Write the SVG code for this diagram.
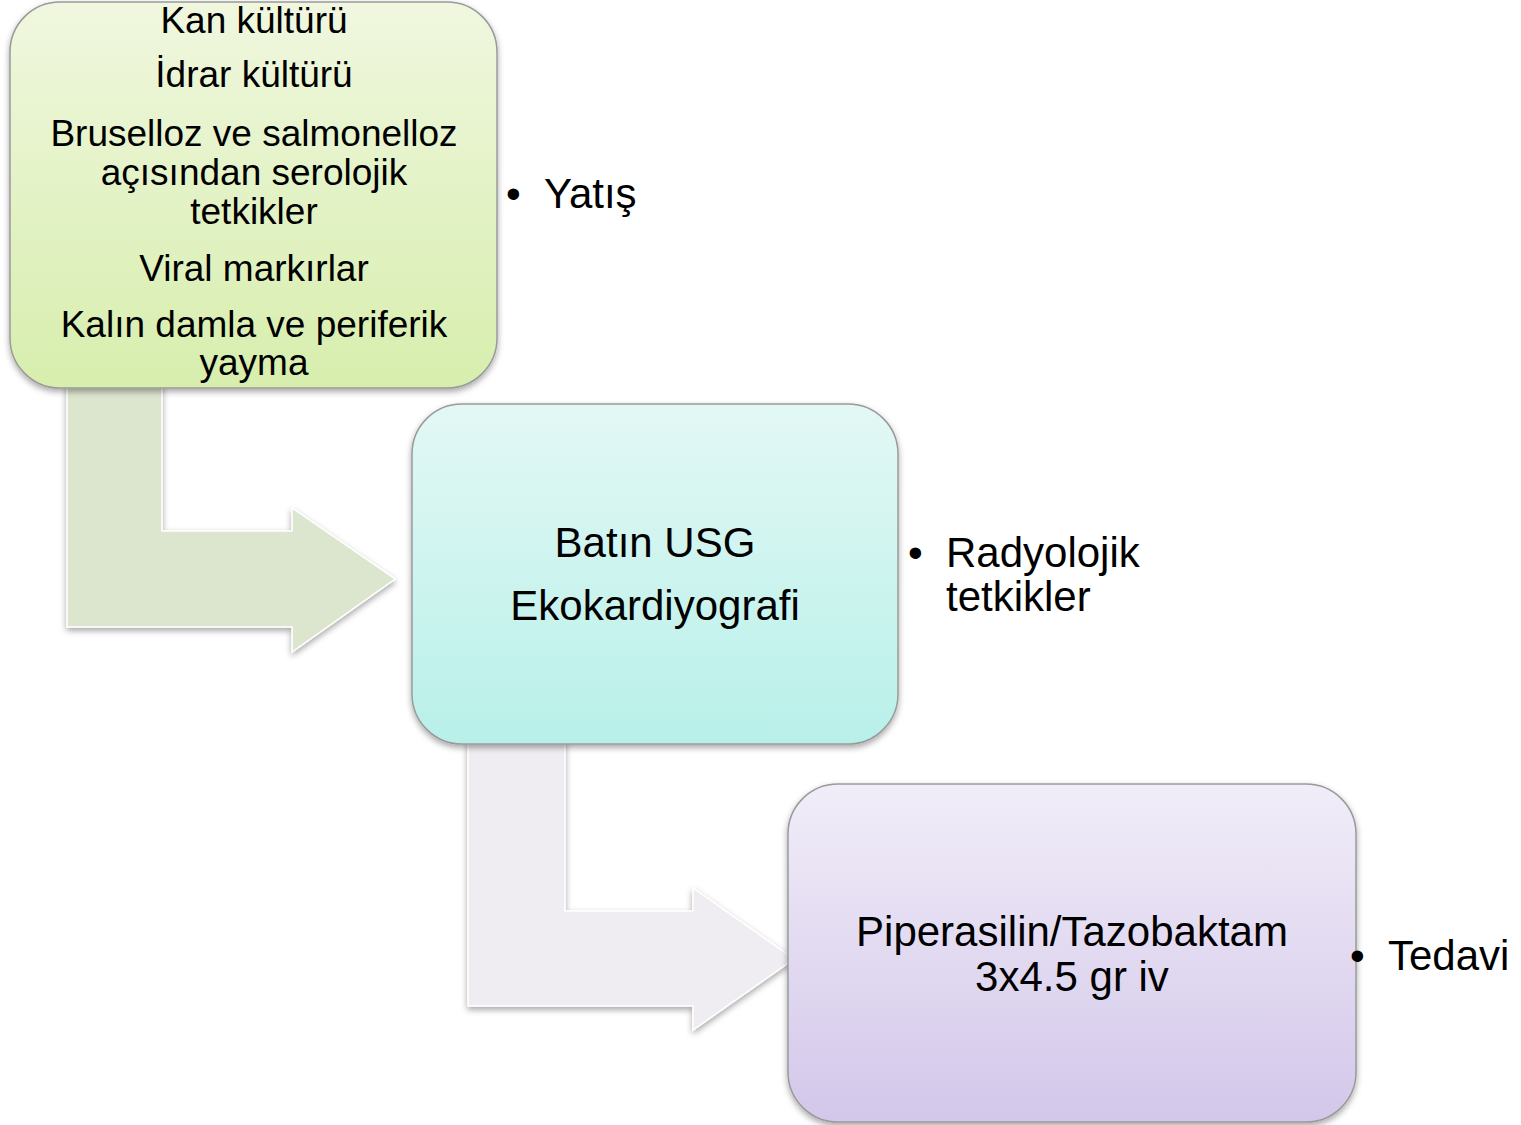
<svg xmlns="http://www.w3.org/2000/svg" width="1521" height="1125" viewBox="0 0 1521 1125">
  <defs>
    <style>
      text { font-family: "Liberation Sans", Arial, sans-serif; fill: #000; }
      .c { text-anchor: middle; }
      .t1 { font-size: 37px; }
      .t2 { font-size: 42px; }
      .box { stroke: #9a9a9a; stroke-width: 1.5; filter: url(#shadow); }
      .arrow { stroke: #ffffff; stroke-width: 1.5; filter: url(#shadow); }
    </style>
    <filter id="shadow" x="-10%" y="-10%" width="120%" height="125%">
      <feDropShadow dx="0" dy="3" stdDeviation="3" flood-color="#000" flood-opacity="0.35"/>
    </filter>
    <linearGradient id="g1" x1="0" y1="0" x2="0" y2="1">
      <stop offset="0" stop-color="#f0f7df"/>
      <stop offset="1" stop-color="#d7eead"/>
    </linearGradient>
    <linearGradient id="g2" x1="0" y1="0" x2="0" y2="1">
      <stop offset="0" stop-color="#e3f8f5"/>
      <stop offset="1" stop-color="#b8f0e9"/>
    </linearGradient>
    <linearGradient id="g3" x1="0" y1="0" x2="0" y2="1">
      <stop offset="0" stop-color="#f1edf8"/>
      <stop offset="1" stop-color="#d3c7ea"/>
    </linearGradient>
  </defs>

  <!-- bent arrows between steps -->
  <g id="connectors">
    <path class="arrow" fill="#dce5cd" d="M67,380 H162 V531 H292 V508 L395,579 L292,652 V627 H67 Z"/>
    <path class="arrow" fill="#efedf2" d="M468,738 H565 V911 H693 V888 L794,959 L693,1030 V1006 H468 Z"/>
  </g>

  <!-- step 1: laboratory work-up -->
  <g id="node-tetkik">
    <rect class="box" x="10" y="2" width="487" height="386" rx="50" ry="50" fill="url(#g1)"/>
    <text class="c t1" x="254" y="33">Kan kültürü</text>
    <text class="c t1" x="254" y="87">İdrar kültürü</text>
    <text class="c t1" x="254" y="146">Bruselloz ve salmonelloz</text>
    <text class="c t1" x="254" y="185">açısından serolojik</text>
    <text class="c t1" x="254" y="224">tetkikler</text>
    <text class="c t1" x="254" y="281">Viral markırlar</text>
    <text class="c t1" x="254" y="337">Kalın damla ve periferik</text>
    <text class="c t1" x="254" y="375">yayma</text>
  </g>
  <g id="label-yatis">
    <text class="t2" x="506" y="208">•<tspan x="544">Yatış</tspan></text>
  </g>

  <!-- step 2: imaging -->
  <g id="node-radyoloji">
    <rect class="box" x="412" y="404" width="486" height="340" rx="50" ry="50" fill="url(#g2)"/>
    <text class="c t2" x="655" y="557">Batın USG</text>
    <text class="c t2" x="655" y="620">Ekokardiyografi</text>
  </g>
  <g id="label-radyoloji">
    <text class="t2" x="908" y="567">•<tspan x="946">Radyolojik</tspan></text>
    <text class="t2" x="946" y="611">tetkikler</text>
  </g>

  <!-- step 3: treatment -->
  <g id="node-tedavi">
    <rect class="box" x="788" y="784" width="568" height="338" rx="50" ry="50" fill="url(#g3)"/>
    <text class="c t2" x="1072" y="946">Piperasilin/Tazobaktam</text>
    <text class="c t2" x="1072" y="991">3x4.5 gr iv</text>
  </g>
  <g id="label-tedavi">
    <text class="t2" x="1350" y="970">•<tspan x="1388">Tedavi</tspan></text>
  </g>
</svg>
